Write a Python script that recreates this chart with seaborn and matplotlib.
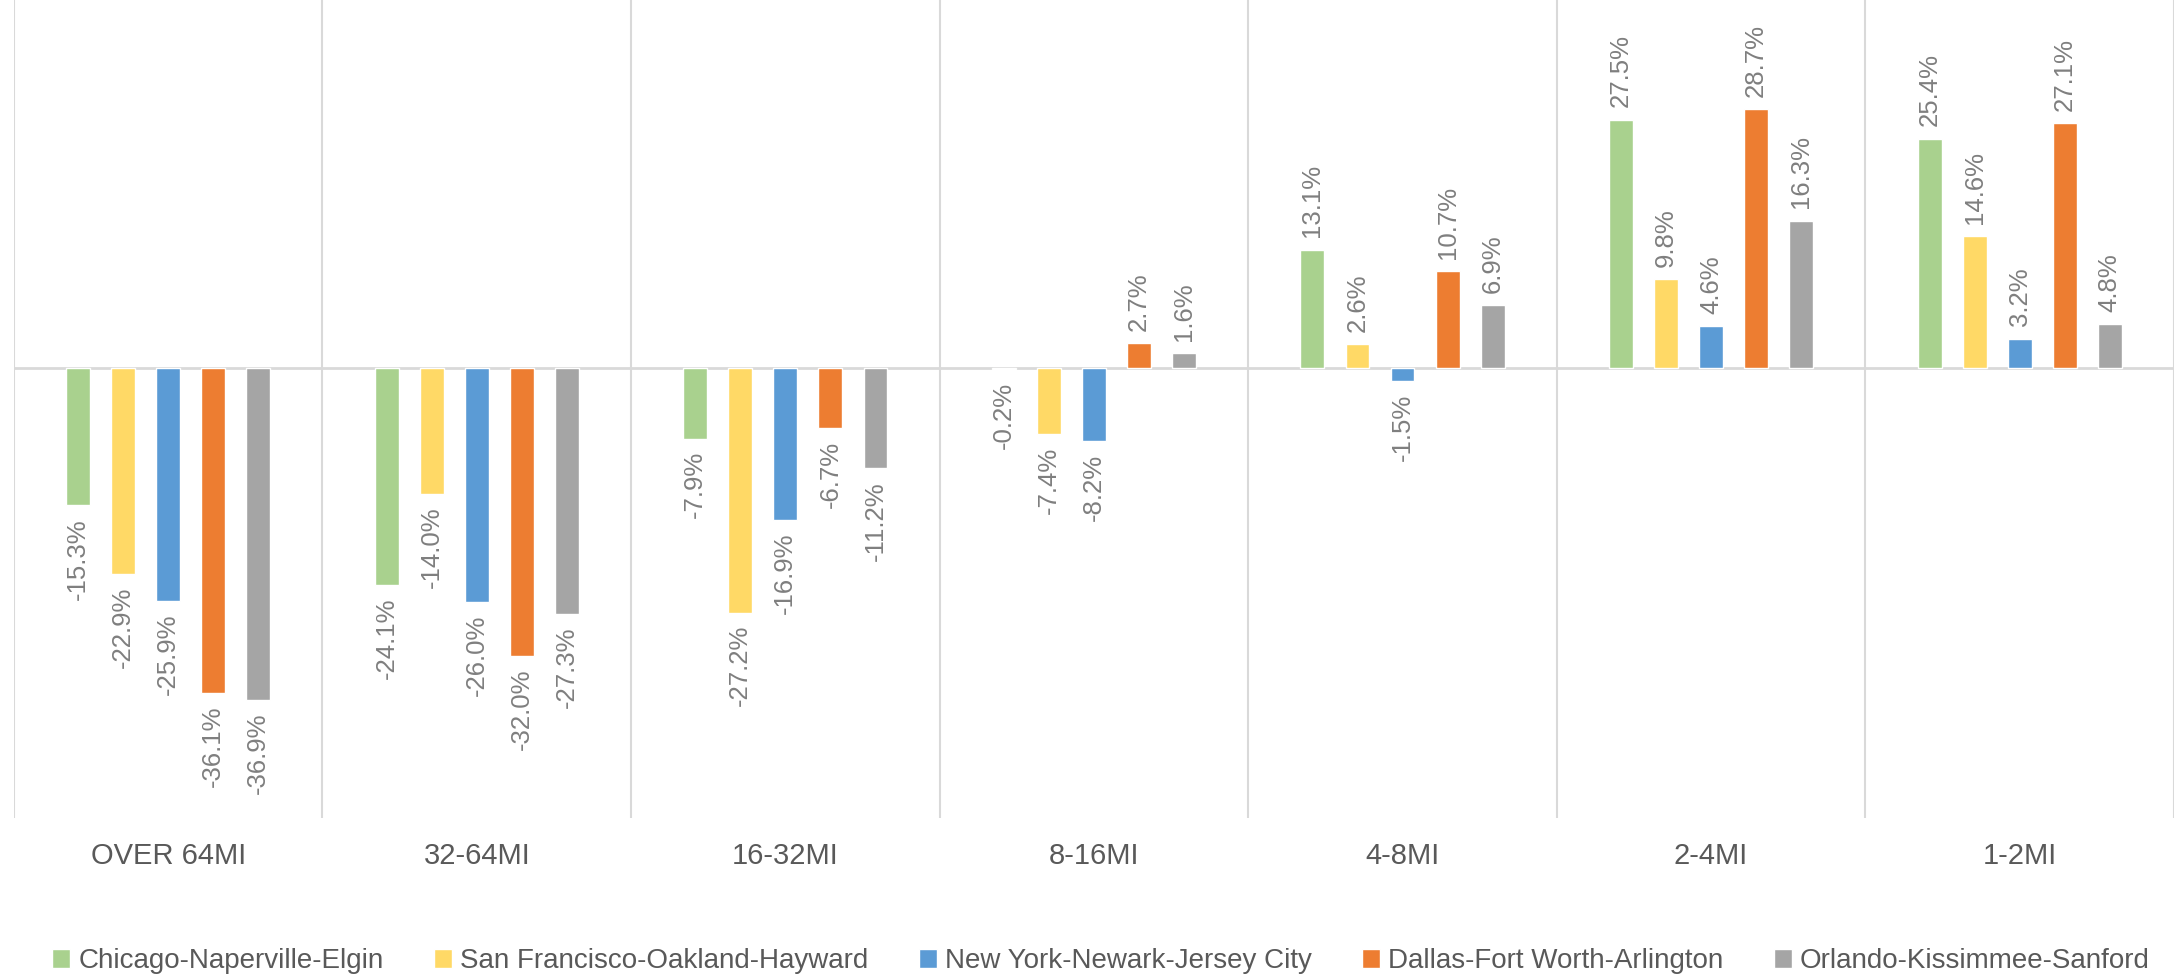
import matplotlib
matplotlib.use("Agg")
import matplotlib.pyplot as plt
import seaborn as sns
import pandas as pd

categories = ["OVER 64MI", "32-64MI", "16-32MI", "8-16MI", "4-8MI", "2-4MI", "1-2MI"]
series_names = [
    "Chicago-Naperville-Elgin",
    "San Francisco-Oakland-Hayward",
    "New York-Newark-Jersey City",
    "Dallas-Fort Worth-Arlington",
    "Orlando-Kissimmee-Sanford",
]
chicago = [-15.3, -24.1, -7.9, -0.2, 13.1, 27.5, 25.4]
san_francisco = [-22.9, -14.0, -27.2, -7.4, 2.6, 9.8, 14.6]
new_york = [-25.9, -26.0, -16.9, -8.2, -1.5, 4.6, 3.2]
dallas = [-36.1, -32.0, -6.7, 2.7, 10.7, 28.7, 27.1]
orlando = [-36.9, -27.3, -11.2, 1.6, 6.9, 16.3, 4.8]
colors = ["#A9D18E", "#FFD966", "#5B9BD5", "#ED7D31", "#A5A5A5"]

series_values = [chicago, san_francisco, new_york, dallas, orlando]
rows = []
for name, vals in zip(series_names, series_values):
    for cat, v in zip(categories, vals):
        rows.append({"category": cat, "series": name, "value": v})
df = pd.DataFrame(rows)

sns.set_theme(style="white")
plt.rcParams["font.family"] = ["Liberation Sans", "DejaVu Sans"]

fig = plt.figure(figsize=(21.74, 9.8), dpi=100)
ax = fig.add_axes([0.0064, 0.1653, 0.9936, 0.8347])

sns.barplot(data=df, x="category", y="value", hue="series", order=categories,
            hue_order=series_names, palette=colors, width=0.73, gap=0.47,
            saturation=1, ax=ax, errorbar=None, legend=True)

for cont in ax.containers:
    ax.bar_label(cont, fmt="{:.1f}%", rotation=90, padding=9,
                 fontsize=18.5, color="#7F7F7F")

ax.set_ylim(-50, 40.8)
ax.set_xlim(-0.5, 6.5)
ax.set_xlabel("")
ax.set_ylabel("")
ax.set_yticks([])
for s in ax.spines.values():
    s.set_visible(False)
ax.set_xticks(range(len(categories)))
ax.set_xticklabels(categories, fontsize=21, color="#595959")
ax.tick_params(axis="x", length=0, pad=17)
ax.set_xticks([i - 0.5 for i in range(len(categories) + 1)], minor=True)
ax.tick_params(axis="x", which="minor", length=0)
ax.grid(False)
ax.grid(True, which="minor", axis="x", color="#D9D9D9", linewidth=1.5)
ax.axhline(0, color="#D9D9D9", linewidth=2, zorder=0.5)
ax.set_axisbelow(True)

handles, labels = ax.get_legend_handles_labels()
ax.get_legend().remove()
fig.legend(handles, labels, loc="center", bbox_to_anchor=(0.5065, 0.019),
           ncol=5, frameon=False, prop={"size": 20},
           labelcolor="#595959", handlelength=0.65, handleheight=0.65,
           handletextpad=0.3, columnspacing=1.8, borderpad=0)

fig.savefig("out.png", dpi=100, facecolor="white")
